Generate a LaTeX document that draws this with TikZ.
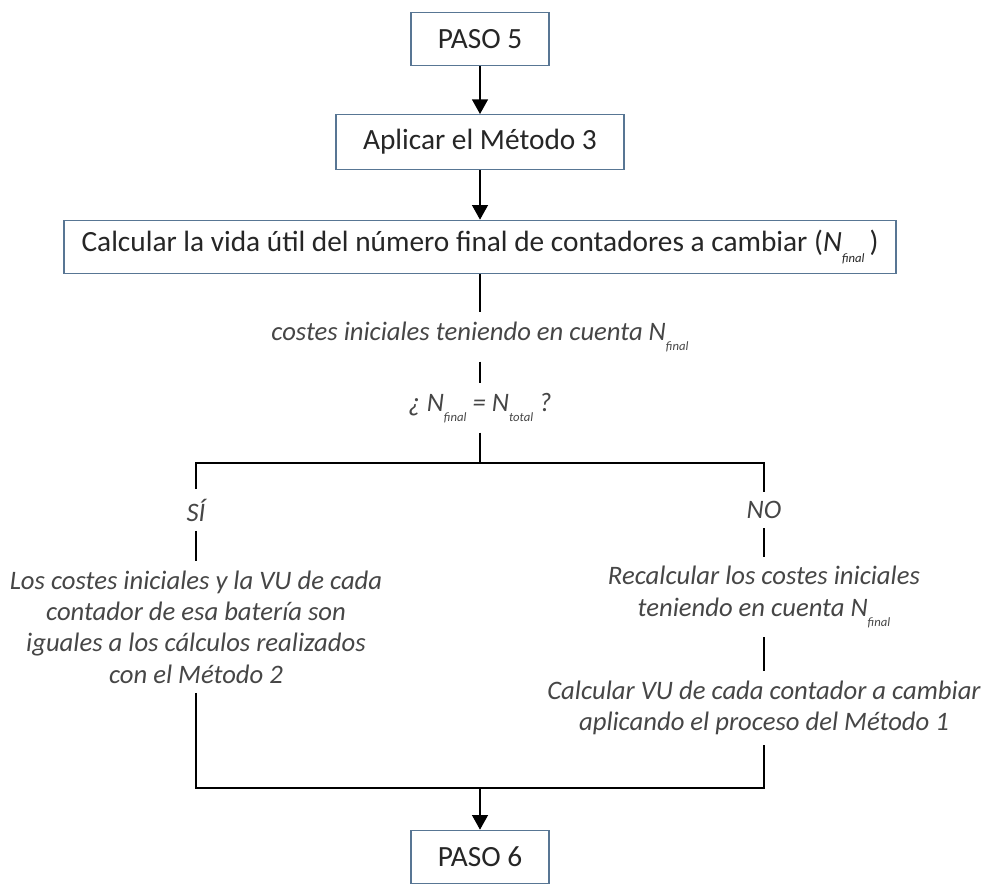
\documentclass[tikz,border=0pt]{standalone}
\usepackage{fontspec}
\setmainfont{Carlito}
\usepackage{xcolor}
\usepackage{tikz}
\usetikzlibrary{positioning, arrows.meta, calc}

\definecolor{boxblue}{RGB}{88,118,148}
\definecolor{notegray}{RGB}{70,70,70}
\newcommand{\subidx}[1]{\raisebox{-0.8ex}{\fontsize{9.5}{10}\selectfont\itshape #1}}

\begin{document}
\begin{tikzpicture}[
      x=0.75pt, y=-0.75pt,
      box/.style={
        draw=boxblue,
        line width=1pt,
        fill=white,
        minimum height=40pt,
        align=center,
        text=black!85,
        font=\fontsize{22}{26}\selectfont
      },
      note/.style={
        align=center,
        text=notegray,
        inner sep=7pt,
        font=\fontsize{20}{23.5}\selectfont\itshape
      },
      arrow/.style={
        -{Triangle[length=11pt,width=12pt]},
        line width=1pt
      },
      link/.style={
        line width=1pt
      }
    ]

    \useasboundingbox (0,0) rectangle (983,883);

    \node[box, minimum width=103.5pt] (paso5) at (480,39) {PASO 5};
    \node[box, minimum width=216pt, minimum height=41pt] (metodo3) at (480,142) {Aplicar el Método 3};
    \node[box, minimum width=624pt] (vidautil) at (480,247)
      {Calcular la vida útil del número final de contadores a cambiar (\textit{N}\subidx{final}\,)};

    \node[note] (costes) at (480,337) {costes iniciales teniendo en cuenta N\subidx{final}};
    \node[note] (pregunta) at (480,408) {¿ N\subidx{final} = N\subidx{total} ?};

    \coordinate (split) at (480,463);
    \coordinate (join) at (480,788);

    \node[note] (si) at (196,510) {SÍ};
    \node[note] (no) at (764,510) {NO};

    \node[note] (igual) at (196,627) {Los costes iniciales y la VU de cada\\
      contador de esa batería son\\
      iguales a los cálculos realizados\\
      con el Método 2};
    \node[note] (recalc) at (764,597) {Recalcular los costes iniciales\\
      teniendo en cuenta N\subidx{final}};
    \node[note] (calcvu) at (764,708) {Calcular VU de cada contador a cambiar\\
      aplicando el proceso del Método 1};

    \node[box, minimum width=103.5pt] (paso6) at (480,857) {PASO 6};

    \draw[arrow] (paso5) -- (metodo3);
    \draw[arrow] (metodo3) -- (vidautil);
    \draw[link] (vidautil) -- (costes);
    \draw[link] (costes) -- (pregunta);
    \draw[link] (pregunta) -- (split);
    \draw[link] (si) |- (split) -| (no);
    \draw[link] (si) -- (igual);
    \draw[link] (no) -- (recalc);
    \draw[link] (recalc) -- (calcvu);
    \draw[link] (igual) |- (join) -| (calcvu);
    \draw[arrow] (join) -- (paso6);

\end{tikzpicture}
\end{document}
